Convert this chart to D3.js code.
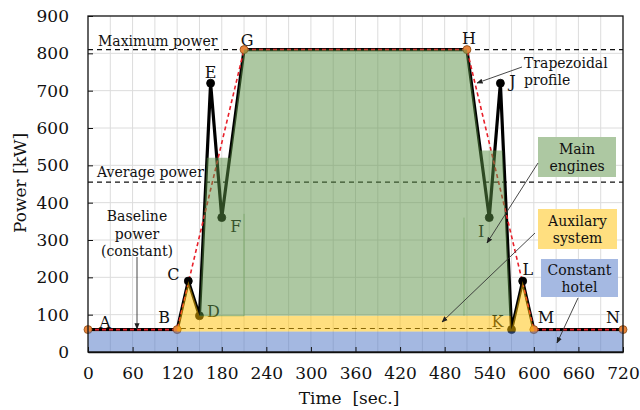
<!DOCTYPE html>
<html>
<head>
<meta charset="utf-8">
<script src="https://d3js.org/d3.v7.min.js"></script>
<style>
  body { margin: 0; background: #fff; }
  svg text { font-family: "DejaVu Serif", serif; fill: #111; }
</style>
</head>
<body>
<div id="chart"></div>
<script>
// ------------------- //
// DATA
// ------------------- //

// power profile points (time in sec, power in kW)
var pointNames = ["A", "B", "C", "D", "E", "F", "G", "H", "I", "J", "K", "L", "M", "N"]
var pointTime  = [0, 120, 135, 150, 165, 180, 210, 510, 540, 555, 570, 585, 600, 720]
var pointPower = [60, 60, 190, 97, 720, 360, 810, 810, 360, 720, 60, 190, 60, 60]

// corners of the trapezoidal profile
var trapezoidCorners = ["A", "B", "G", "H", "M", "N"]

// reference levels
var maxPower = 810
var avgPower = 455
var hotelPower = 55
var auxBaseline = {from: 125, to: 555, power: 63}

// stacked layers (outline)
var auxTime  = [120, 120, 135, 150, 569, 570, 585, 600, 600]
var auxPower = [55, 60, 190, 97, 97, 60, 190, 60, 55]
var mainTime  = [150, 160, 191, 210, 510, 528, 558, 569]
var mainPower = [97, 520, 520, 810, 810, 540, 540, 97]

// axis ticks
var xTicks = [0, 60, 120, 180, 240, 300, 360, 420, 480, 540, 600, 660, 720]
var yTicks = [0, 100, 200, 300, 400, 500, 600, 700, 800, 900]

// ------------------- //
// SVG AND SCALES
// ------------------- //

var W = 640, H = 410
var margin = {top: 16, right: 17, bottom: 58, left: 88}
var width = W - margin.left - margin.right,
    height = H - margin.top - margin.bottom

var svg = d3.select("#chart")
  .append("svg")
    .attr("width", W)
    .attr("height", H)

var g = svg.append("g")
    .attr("transform", "translate(" + margin.left + "," + margin.top + ")")

var x = d3.scaleLinear().domain([0, 720]).range([0, width])
var y = d3.scaleLinear().domain([0, 900]).range([height, 0])

var colGreen = "#5b9245", colYellow = "#ffc000", colBlue = "#4a72c4"

// grid
g.append("g").selectAll("line")
  .data(d3.range(30, 720, 30))
  .enter().append("line")
    .attr("x1", function(d){ return x(d) }).attr("x2", function(d){ return x(d) })
    .attr("y1", 0).attr("y2", height)
    .style("stroke", "#dcdcdc").style("stroke-width", 1)
g.append("g").selectAll("line")
  .data(yTicks.slice(1, -1))
  .enter().append("line")
    .attr("x1", 0).attr("x2", width)
    .attr("y1", function(d){ return y(d) }).attr("y2", function(d){ return y(d) })
    .style("stroke", "#dcdcdc").style("stroke-width", 1)

// reference dashed lines
function hDash(x0, x1, v) {
  g.append("line")
    .attr("x1", x(x0)).attr("x2", x(x1))
    .attr("y1", y(v)).attr("y2", y(v))
    .style("stroke", "#111").style("stroke-width", 1.1)
    .style("stroke-dasharray", "5,4")
}
hDash(0, 720, maxPower)
hDash(0, 720, avgPower)
hDash(auxBaseline.from, auxBaseline.to, auxBaseline.power)

// ------------------- //
// PROFILE
// ------------------- //

var points = pointNames.map(function(n, i){ return {name: n, t: pointTime[i], p: pointPower[i]} })
var line = d3.line().x(function(d){ return x(d.t) }).y(function(d){ return y(d.p) })

g.append("path")
  .datum(points)
  .attr("d", line)
  .style("fill", "none").style("stroke", "#000")
  .style("stroke-width", 3.2).style("stroke-linejoin", "round")

var trap = points.filter(function(d){ return trapezoidCorners.indexOf(d.name) >= 0 })
g.append("path")
  .datum(trap)
  .attr("d", line)
  .style("fill", "none").style("stroke", "#e8202a")
  .style("stroke-width", 1.6).style("stroke-dasharray", "4,3")

g.selectAll(".dot")
  .data(points)
  .enter().append("circle")
    .attr("cx", function(d){ return x(d.t) })
    .attr("cy", function(d){ return y(d.p) })
    .attr("r", 4)
    .style("fill", function(d){ return trapezoidCorners.indexOf(d.name) >= 0 ? "#e8843a" : "#000" })
    .style("stroke", function(d){ return trapezoidCorners.indexOf(d.name) >= 0 ? "#8a4a14" : "#000" })
    .style("stroke-width", 0.8)

// label offsets in px
var labelOffset = {A: [17, -7], B: [-13, -12], C: [-15, -7], D: [14, -4], E: [0, -11], F: [14, 9],
  G: [3, -9], H: [2, -11], I: [-8, 14], J: [12, -2], K: [-14, -8], L: [5, -12], M: [12, -12], N: [-10, -12]}

g.selectAll(".plabel")
  .data(points)
  .enter().append("text")
    .attr("x", function(d){ return x(d.t) + labelOffset[d.name][0] })
    .attr("y", function(d){ return y(d.p) + labelOffset[d.name][1] })
    .attr("text-anchor", "middle")
    .attr("dominant-baseline", "central")
    .style("font-size", "16px")
    .text(function(d){ return d.name })

// ------------------- //
// LAYERS (semi transparent, on top)
// ------------------- //

var area = d3.line().x(function(d){ return x(d[0]) }).y(function(d){ return y(d[1]) })

g.append("rect")
  .attr("x", x(0)).attr("y", y(hotelPower))
  .attr("width", x(720) - x(0)).attr("height", y(0) - y(hotelPower))
  .style("fill", colBlue).style("opacity", 0.5)

g.append("path")
  .attr("d", area(d3.zip(auxTime, auxPower)) + "Z")
  .style("fill", colYellow).style("opacity", 0.5)

g.append("path")
  .attr("d", area(d3.zip(mainTime, mainPower)) + "Z")
  .style("fill", colGreen).style("opacity", 0.5)

// faint seams of the green layer
var seam = "#5b9245"
g.append("line").attr("x1", x(150)).attr("x2", x(210)).attr("y1", y(97)).attr("y2", y(97))
  .style("stroke", seam).style("opacity", 0.45)
g.append("line").attr("x1", x(210)).attr("x2", x(210)).attr("y1", y(97)).attr("y2", y(370))
  .style("stroke", seam).style("opacity", 0.45)
g.append("line").attr("x1", x(506)).attr("x2", x(506)).attr("y1", y(97)).attr("y2", y(360))
  .style("stroke", seam).style("opacity", 0.45)

// ------------------- //
// AXES
// ------------------- //

var xAxis = g.append("g")
  .attr("transform", "translate(0," + height + ")")
  .call(d3.axisBottom(x).tickValues(xTicks).tickSizeInner(-5).tickSizeOuter(0).tickPadding(22))
var yAxis = g.append("g")
  .call(d3.axisLeft(y).tickValues(yTicks).tickSizeInner(-5).tickSizeOuter(0).tickPadding(19))

xAxis.selectAll("text").style("font-size", "17px").attr("dy", "0.3em")
yAxis.selectAll("text").style("font-size", "17px")
xAxis.selectAll("line").style("stroke", "#111")
yAxis.selectAll("line").style("stroke", "#111")
xAxis.select(".domain").style("stroke", "#111").style("stroke-width", 1.5)
yAxis.select(".domain").remove()

g.append("rect")
  .attr("x", 0).attr("y", 0).attr("width", width).attr("height", height)
  .style("fill", "none").style("stroke", "#111").style("stroke-width", 1.3)

svg.append("text")
  .attr("x", 349)
  .attr("y", 398)
  .attr("text-anchor", "middle")
  .attr("dominant-baseline", "central")
  .style("font-size", "17px")
  .attr("xml:space", "preserve")
  .text("Time  [sec.]")

svg.append("text")
  .attr("transform", "translate(20,183) rotate(-90)")
  .attr("text-anchor", "middle")
  .attr("dominant-baseline", "central")
  .style("font-size", "17px")
  .text("Power [kW]")

// ------------------- //
// ANNOTATIONS
// ------------------- //

svg.append("defs").append("marker")
    .attr("id", "arrow")
    .attr("viewBox", "0 0 10 10")
    .attr("refX", 9).attr("refY", 5)
    .attr("markerWidth", 7).attr("markerHeight", 7)
    .attr("orient", "auto")
  .append("path")
    .attr("d", "M0,1 L10,5 L0,9 Z")
    .style("fill", "#222")

function arrow(x1, y1, x2, y2) {
  svg.append("line")
    .attr("x1", x1).attr("y1", y1).attr("x2", x2).attr("y2", y2)
    .style("stroke", "#333").style("stroke-width", 0.9)
    .attr("marker-end", "url(#arrow)")
}

function note(lines, xPos, yPos, anchor, lh) {
  lines.forEach(function(t, i) {
    svg.append("text")
      .attr("x", xPos).attr("y", yPos + i * lh)
      .attr("text-anchor", anchor)
      .attr("dominant-baseline", "central")
      .style("font-size", "14px")
      .text(t)
  })
}

note(["Maximum power"], 98, 41, "start", 0)
note(["Average power"], 97, 172, "start", 0)
note(["Baseline", "power", "(constant)"], 137, 216, "middle", 17.5)
arrow(137, 257, 137, 329)

note(["Trapezoidal", "profile"], 524, 63, "start", 17)
arrow(522, 67, 477, 83)

// legend boxes
var boxes = [
  {lines: ["Main", "engines"], x: 538, y: 137, w: 78, h: 40, fill: "#adc8a2"},
  {lines: ["Auxilary", "system"], x: 538, y: 209, w: 79, h: 40, fill: "#ffdf80"},
  {lines: ["Constant", "hotel"], x: 541, y: 259, w: 77, h: 38, fill: "#a5b9e2"}
]
boxes.forEach(function(b) {
  svg.append("rect")
    .attr("x", b.x).attr("y", b.y).attr("width", b.w).attr("height", b.h)
    .style("fill", b.fill)
  note(b.lines, b.x + b.w / 2, b.y + b.h / 2 - 8, "middle", 17)
})

arrow(538, 163, 487, 243)
arrow(535, 233, 442, 322)
arrow(578, 298, 557, 343)
</script>
</body>
</html>
